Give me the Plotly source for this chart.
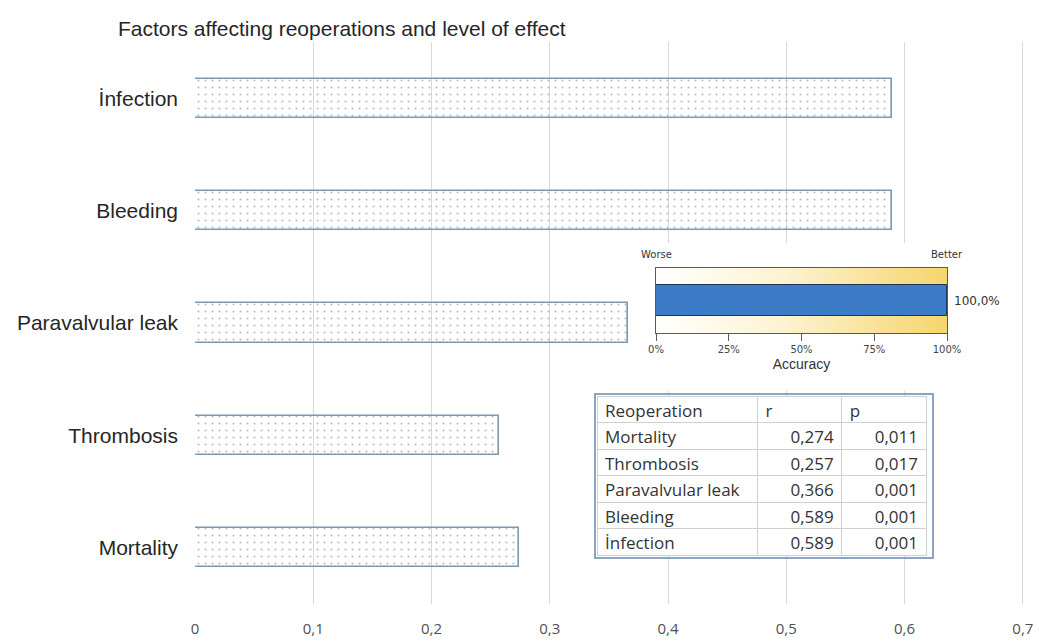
import plotly.graph_objects as go

# ---------------- data ----------------
categories = ["Mortality", "Thrombosis", "Paravalvular leak", "Bleeding", "İnfection"]
r_values = [0.274, 0.257, 0.366, 0.589, 0.589]
p_values = [0.011, 0.017, 0.001, 0.001, 0.001]
x_ticks = [0, 0.1, 0.2, 0.3, 0.4, 0.5, 0.6, 0.7]

table_header = ["Reoperation", "r", "p"]
table_rows = ["Mortality", "Thrombosis", "Paravalvular leak", "Bleeding", "İnfection"]

accuracy = 100.0
gauge_range = [0, 100]
gauge_ticks = [0, 25, 50, 75, 100]

# ---------------- geometry helpers ----------------
W, H = 1039, 643
L, R, T, B = 195, 15, 42, 39
PW, PH = W - L - R, H - T - B


def px(x):
    return (x - L) / PW


def py(y):
    return 1 - (y - T) / PH


def comma(v, nd):
    return f"{v:.{nd}f}".replace(".", ",")


tick_text = ["0" if t == 0 else comma(t, 1) for t in x_ticks]

fig = go.Figure()

# main bars
fig.add_trace(go.Bar(
    x=r_values, y=categories, orientation="h", width=0.35,
    marker=dict(color="#f7fafd",
                line=dict(color="#7d97ad", width=1.6),
                pattern=dict(shape=".", fgcolor="#b3bcc5", size=7, solidity=0.07)),
    hoverinfo="skip", showlegend=False,
))

# gauge background gradient (x2/y2)
fig.add_trace(go.Scatter(
    x=[gauge_range[0], gauge_range[1], gauge_range[1], gauge_range[0], gauge_range[0]],
    y=[0, 0, 1, 1, 0],
    mode="lines", fill="toself", line=dict(width=0, color="rgba(0,0,0,0)"),
    fillgradient=dict(type="horizontal",
                      colorscale=[[0, "#ffffff"], [0.45, "#fdf2d0"], [1, "#f5d56c"]]),
    xaxis="x2", yaxis="y2", hoverinfo="skip", showlegend=False,
))

# gauge value bar (x3/y3 overlaying x2/y2)
fig.add_trace(go.Bar(
    x=[accuracy], y=[0.5], orientation="h", width=0.49,
    marker=dict(color="#3c7cc7", line=dict(color="#1c3557", width=1)),
    xaxis="x3", yaxis="y3", hoverinfo="skip", showlegend=False,
))

# table
fig.add_trace(go.Table(
    domain=dict(x=[px(597), px(927)], y=[py(556), py(396)]),
    columnwidth=[162, 85, 85],
    header=dict(values=table_header, align=["left", "left", "left"],
                fill_color="white", line=dict(color="#d0d0d0", width=1),
                font=dict(family="Open Sans", size=17, color="#333333"), height=26.5),
    cells=dict(values=[table_rows,
                       [comma(v, 3) for v in r_values],
                       [comma(v, 3) for v in p_values]],
               align=["left", "right", "right"],
               fill_color="white", line=dict(color="#d0d0d0", width=1),
               font=dict(family="Open Sans", size=17, color="#333333"), height=26.5),
))

fig.update_layout(
    template="none",
    width=W, height=H,
    margin=dict(l=L, r=R, t=T, b=B, autoexpand=False),
    paper_bgcolor="white", plot_bgcolor="white",
    showlegend=False,
    bargap=0,
    title=dict(text="Factors affecting reoperations and level of effect",
               x=118 / W, xanchor="left", y=1 - 29 / H, yanchor="middle",
               font=dict(family="Liberation Sans", size=21, color="#262626")),
    xaxis=dict(range=[0, 0.701], tickvals=x_ticks, ticktext=tick_text,
               showgrid=True, gridcolor="#d9d9d9", gridwidth=1,
               zeroline=False, showline=False, ticks="", automargin=False,
               tickfont=dict(family="Open Sans", size=15, color="#505050"),
               ticklabelstandoff=14, fixedrange=True),
    yaxis=dict(type="category", categoryorder="array", categoryarray=categories,
               range=[-0.5, len(categories) - 0.5],
               showgrid=False, zeroline=False, showline=False, ticks="", automargin=False,
               tickfont=dict(family="Liberation Sans", size=21, color="#262626"),
               ticklabelstandoff=16, fixedrange=True),
    xaxis2=dict(domain=[px(656), px(947)], anchor="y2", range=gauge_range,
                showline=True, mirror=True, linecolor="#5a5a5a", linewidth=1,
                ticks="outside", ticklen=7, tickcolor="#5a5a5a", automargin=False,
                tickvals=gauge_ticks, ticktext=[f"{t}%" for t in gauge_ticks],
                tickfont=dict(family="DejaVu Sans", size=10, color="#444444"),
                showgrid=False, zeroline=False, fixedrange=True,
                title=dict(text="Accuracy", standoff=5,
                           font=dict(family="Liberation Sans", size=14, color="#333333"))),
    yaxis2=dict(domain=[py(333), py(268)], anchor="x2", range=[0, 1],
                showline=True, mirror=True, linecolor="#5a5a5a", linewidth=1,
                showticklabels=False, ticks="", showgrid=False, zeroline=False,
                automargin=False, fixedrange=True),
    xaxis3=dict(overlaying="x2", anchor="y3", range=gauge_range, visible=False,
                showgrid=False, automargin=False, fixedrange=True),
    yaxis3=dict(overlaying="y2", anchor="x3", range=[0, 1], visible=False,
                showgrid=False, automargin=False, fixedrange=True),
    shapes=[
        # white backdrop hiding gridlines behind the inset
        dict(type="rect", xref="x", yref="y", layer="between",
             x0=0.37, x1=0.6906, y0=1.40, y1=2.71,
             fillcolor="white", line=dict(width=0)),
        # table outer border
        dict(type="rect", xref="paper", yref="paper", layer="above",
             x0=px(595), x1=px(933), y0=py(558), y1=py(394),
             fillcolor="rgba(0,0,0,0)", line=dict(color="#8aa5bf", width=2)),
    ],
    annotations=[
        dict(text="Worse", xref="x2", yref="y2", x=gauge_range[0], y=1,
             xanchor="center", yanchor="bottom", yshift=6, showarrow=False,
             font=dict(family="DejaVu Sans", size=10, color="#333333")),
        dict(text="Better", xref="x2", yref="y2", x=gauge_range[1], y=1,
             xanchor="center", yanchor="bottom", yshift=6, showarrow=False,
             font=dict(family="DejaVu Sans", size=10, color="#333333")),
        dict(text=comma(accuracy, 1) + "%", xref="x2", yref="y2", x=gauge_range[1], y=0.5,
             xanchor="left", yanchor="middle", xshift=5, showarrow=False,
             font=dict(family="DejaVu Sans", size=12, color="#333333")),
    ],
)

fig.write_html(
    "out.html",
    config={"displayModeBar": False},
    post_script="document.body.style.margin='0';document.body.style.overflow='hidden';",
)
